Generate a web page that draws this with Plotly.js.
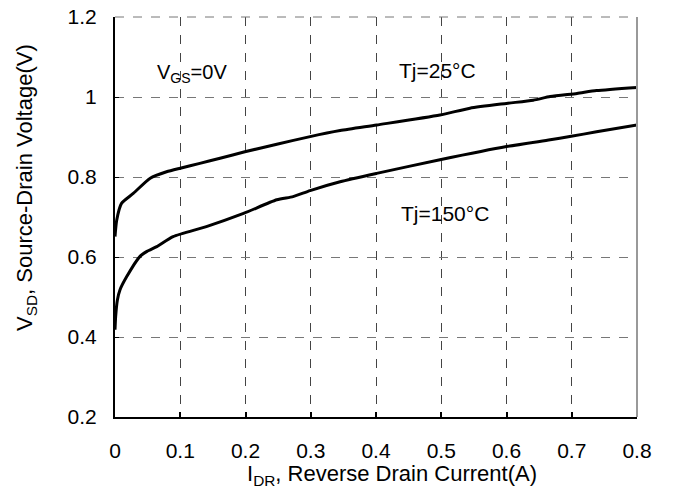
<!DOCTYPE html>
<html>
<head>
<meta charset="utf-8">
<script src="https://cdn.plot.ly/plotly-3.0.1.min.js"></script>
<style>html,body{margin:0;padding:0;background:#fff;}#chart{width:675px;height:492px;}</style>
</head>
<body>
<div id="chart"></div>
<script>
// Tj = 25°C curve
const x25 = [0, 0.0026, 0.010, 0.028, 0.054, 0.079, 0.100, 0.130, 0.161, 0.199, 0.248, 0.299, 0.345, 0.401, 0.498, 0.544, 0.600, 0.641, 0.667, 0.708, 0.738, 0.800];
const y25 = [0.651, 0.692, 0.734, 0.759, 0.797, 0.813, 0.822, 0.834, 0.847, 0.863, 0.882, 0.901, 0.916, 0.930, 0.955, 0.972, 0.984, 0.992, 1.001, 1.009, 1.016, 1.024];
// Tj = 150°C curve
const x150 = [0, 0.001, 0.0036, 0.0077, 0.018, 0.038, 0.049, 0.064, 0.089, 0.140, 0.197, 0.248, 0.273, 0.299, 0.345, 0.401, 0.498, 0.600, 0.667, 0.697, 0.738, 0.800];
const y150 = [0.418, 0.451, 0.492, 0.518, 0.551, 0.601, 0.614, 0.626, 0.651, 0.676, 0.709, 0.743, 0.751, 0.766, 0.788, 0.809, 0.843, 0.876, 0.893, 0.901, 0.913, 0.930];
const xTicks = [0, 0.1, 0.2, 0.3, 0.4, 0.5, 0.6, 0.7, 0.8];
const xTickText = ["0", "0.1", "0.2", "0.3", "0.4", "0.5", "0.6", "0.7", "0.8"];
const yTicks = [0.2, 0.4, 0.6, 0.8, 1.0, 1.2];
const yTickText = ["0.2", "0.4", "0.6", "0.8", "1", "1.2"];

const FONT = "Arial, 'Liberation Sans', sans-serif";
const line = {color: '#000', width: 3, shape: 'spline', smoothing: 0.6};

const data = [
  {x: x25, y: y25, mode: 'lines', line: line, name: 'Tj=25°C', hoverinfo: 'skip'},
  {x: x150, y: y150, mode: 'lines', line: line, name: 'Tj=150°C', hoverinfo: 'skip'}
];

const layout = {
  width: 675, height: 492,
  margin: {l: 115, r: 38, t: 17, b: 75},
  paper_bgcolor: '#fff', plot_bgcolor: '#fff',
  showlegend: false,
  font: {family: FONT, size: 21, color: '#000'},
  xaxis: {
    range: [0, 0.8], tickvals: xTicks, ticktext: xTickText,
    showgrid: true, gridcolor: '#444', griddash: 'dash', gridwidth: 1,
    showline: true, linecolor: '#000', linewidth: 2,
    ticks: 'inside', ticklen: 5, tickwidth: 2, tickcolor: '#000',
    zeroline: false, tickfont: {size: 21, family: FONT}, ticklabelstandoff: 14
  },
  yaxis: {
    range: [0.2, 1.2], tickvals: yTicks, ticktext: yTickText,
    showgrid: true, gridcolor: '#777', griddash: 'dash', gridwidth: 1,
    showline: true, linecolor: '#000', linewidth: 2,
    ticks: 'inside', ticklen: 4, tickwidth: 1, tickcolor: '#000',
    zeroline: false, tickfont: {size: 21, family: FONT}, ticklabelstandoff: 12
  },
  shapes: [
    {type: 'line', xref: 'paper', yref: 'paper', x0: 0, x1: 1, y0: 1, y1: 1, line: {color: '#777', width: 1, dash: 'dash'}},
    {type: 'line', xref: 'paper', yref: 'paper', x0: 1, x1: 1, y0: 0, y1: 1, line: {color: '#999', width: 2}}
  ],
  annotations: [
    {x: 0.118, y: 1.06, xref: 'x', yref: 'y', text: 'V<sub>GS</sub>=0V', showarrow: false, font: {size: 20, family: FONT}, xanchor: 'center', yanchor: 'middle'},
    {x: 0.495, y: 1.067, xref: 'x', yref: 'y', text: 'Tj=25°C', showarrow: false, font: {size: 21, family: FONT}, xanchor: 'center', yanchor: 'middle'},
    {x: 0.506, y: 0.71, xref: 'x', yref: 'y', text: 'Tj=150°C', showarrow: false, font: {size: 21, family: FONT}, xanchor: 'center', yanchor: 'middle'},
    {x: (392 - 115) / 522, y: -(475 - 417) / 400, xref: 'paper', yref: 'paper', text: 'I<sub>DR</sub>, Reverse Drain Current(A)', showarrow: false, font: {size: 22, family: FONT}, xanchor: 'center', yanchor: 'middle'},
    {x: -(115 - 26) / 522, y: (417 - 188) / 400, xref: 'paper', yref: 'paper', text: 'V<sub>SD</sub>, Source-Drain Voltage(V)', textangle: -90, showarrow: false, font: {size: 22, family: FONT}, xanchor: 'center', yanchor: 'middle'}
  ]
};

Plotly.newPlot('chart', data, layout, {displayModeBar: false, staticPlot: true});
</script>
</body>
</html>
